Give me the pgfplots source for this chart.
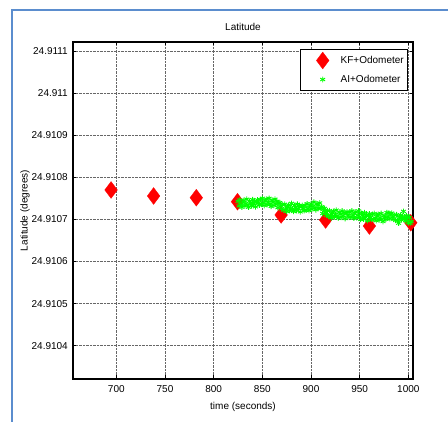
\documentclass[border=0pt]{standalone}
\usepackage{pgfplots}
\pgfplotsset{compat=1.18}
\usepackage{fontspec}
\setmainfont{Liberation Sans}

\definecolor{framecol}{RGB}{91,141,206}
\definecolor{mlgreen}{RGB}{0,255,0}

% Latitude values are stored as (latitude - 24.91) * 10^4, so that TeX's
% arithmetic keeps the tiny differences; the y tick labels give degrees.

% KF + odometer fixes
\pgfplotstableread{
t       lat
694.6   7.70
738.3   7.556
782.2   7.515
824.5   7.42
869.3   7.105
915.0   6.986
960.0   6.843
1002.5  6.92
}\kfdata

% AI + odometer estimates, one per second
\pgfplotstableread{
t     lat
825  7.43
826  7.32
827  7.46
828  7.35
829  7.29
830  7.41
831  7.45
832  7.32
833  7.38
834  7.48
835  7.34
836  7.29
837  7.43
838  7.40
839  7.32
840  7.47
841  7.36
842  7.43
843  7.30
844  7.42
845  7.46
846  7.39
847  7.34
848  7.47
849  7.36
850  7.50
851  7.39
852  7.33
853  7.44
854  7.48
855  7.35
856  7.41
857  7.50
858  7.36
859  7.31
860  7.45
861  7.41
862  7.33
863  7.48
864  7.36
865  7.43
866  7.28
867  7.38
868  7.40
869  7.32
870  7.25
871  7.35
872  7.22
873  7.36
874  7.25
875  7.19
876  7.30
877  7.34
878  7.21
879  7.28
880  7.38
881  7.24
882  7.19
883  7.33
884  7.29
885  7.21
886  7.36
887  7.25
888  7.32
889  7.18
890  7.30
891  7.33
892  7.26
893  7.21
894  7.33
895  7.22
896  7.37
897  7.26
898  7.21
899  7.32
900  7.37
901  7.24
902  7.31
903  7.41
904  7.27
905  7.23
906  7.37
907  7.34
908  7.26
909  7.39
910  7.26
911  7.30
912  7.14
913  7.24
914  7.26
915  7.17
916  7.10
917  7.20
918  7.07
919  7.21
920  7.10
921  7.04
922  7.15
923  7.19
924  7.06
925  7.12
926  7.22
927  7.08
928  7.03
929  7.17
930  7.13
931  7.05
932  7.20
933  7.09
934  7.16
935  7.02
936  7.14
937  7.18
938  7.10
939  7.05
940  7.17
941  7.06
942  7.20
943  7.09
944  7.03
945  7.14
946  7.18
947  7.04
948  7.10
949  7.20
950  7.06
951  7.00
952  7.14
953  7.10
954  7.01
955  7.16
956  7.05
957  7.11
958  6.97
959  7.09
960  7.13
961  7.05
962  7.00
963  7.12
964  7.00
965  7.14
966  7.03
967  6.97
968  7.08
969  7.12
970  6.99
971  7.04
972  7.14
973  7.00
974  6.95
975  7.09
976  7.06
977  7.00
978  7.16
979  7.06
980  7.15
981  7.02
982  7.12
983  7.15
984  7.06
985  7.00
986  7.10
987  6.98
988  7.11
989  6.98
990  6.91
991  7.04
992  7.10
993  6.99
994  7.07
995  7.19
996  7.03
997  6.97
998  7.09
999  7.03
1000 6.92
1001 7.05
1002 6.91
1003 6.95
}\aidata

\begin{document}
\begin{tikzpicture}[x=1pt,y=1pt]
\useasboundingbox (0,0) rectangle (448,422);
% light blue frame round the figure
\draw[framecol, line width=1.3pt] (12,0) -- (12,412) -- (448,412);
\begin{axis}[
  at={(73pt,43pt)}, anchor=south west,
  scale only axis, width=340pt, height=337pt,
  font=\fontsize{10}{12}\selectfont,
  /pgf/number format/assume math mode=true,
  /pgf/number format/1000 sep={},
  xmin=655.5, xmax=1004.8,
  ymin=3.209, ymax=11.214,
  xtick={700,750,...,1000},
  ytick={4,5,...,11},
  yticklabels={24.9104,24.9105,24.9106,24.9107,24.9108,24.9109,24.911,24.9111},
  tick align=inside,
  major tick length=3.5pt,
  every tick/.style={black, line width=0.6pt},
  axis line style={line width=1.1pt},
  grid=major,
  major grid style={densely dotted, black!60, line width=0.5pt},
  xticklabel style={inner sep=0pt, anchor=north, yshift=-6pt},
  yticklabel style={inner sep=0pt, anchor=east, xshift=-5pt},
  title={Latitude},
  title style={at={(axis description cs:0.5,1)}, anchor=south, inner sep=0pt, yshift=5pt},
  xlabel={time (seconds)},
  xlabel style={at={(axis description cs:0.5,-0.0822)}, anchor=center, inner sep=0pt},
  ylabel={Latitude (degrees)},
  ylabel style={at={(axis description cs:-0.141,0.5)}, anchor=center, rotate=0, inner sep=0pt},
  legend style={at={(0.986,0.979)}, anchor=north east, draw=black, line width=0.9pt,
    inner xsep=4pt, inner ysep=1.5pt, row sep=0pt, column sep=0pt,
    nodes={inner xsep=0pt, inner ysep=0pt, font=\fontsize{10}{12}\selectfont},
    cells={anchor=west}},
  legend image code/.code={%
    \path[draw=none, fill=none] (-18pt,-9.5pt) rectangle (18pt,9.5pt);
    \draw[mark repeat=1,#1] plot coordinates {(0pt,0pt)};},
]
\addplot[only marks, mark=diamond*, mark size=8.5pt, color=red, mark options={line width=0.2pt}]
  table[x=t, y=lat] {\kfdata};
\addlegendentry{KF+Odometer}
\addplot[only marks, mark=asterisk, mark size=2.8pt, color=mlgreen, mark options={line width=0.9pt}]
  table[x=t, y=lat] {\aidata};
\addlegendentry{AI+Odometer}
\end{axis}
\end{tikzpicture}
\end{document}
